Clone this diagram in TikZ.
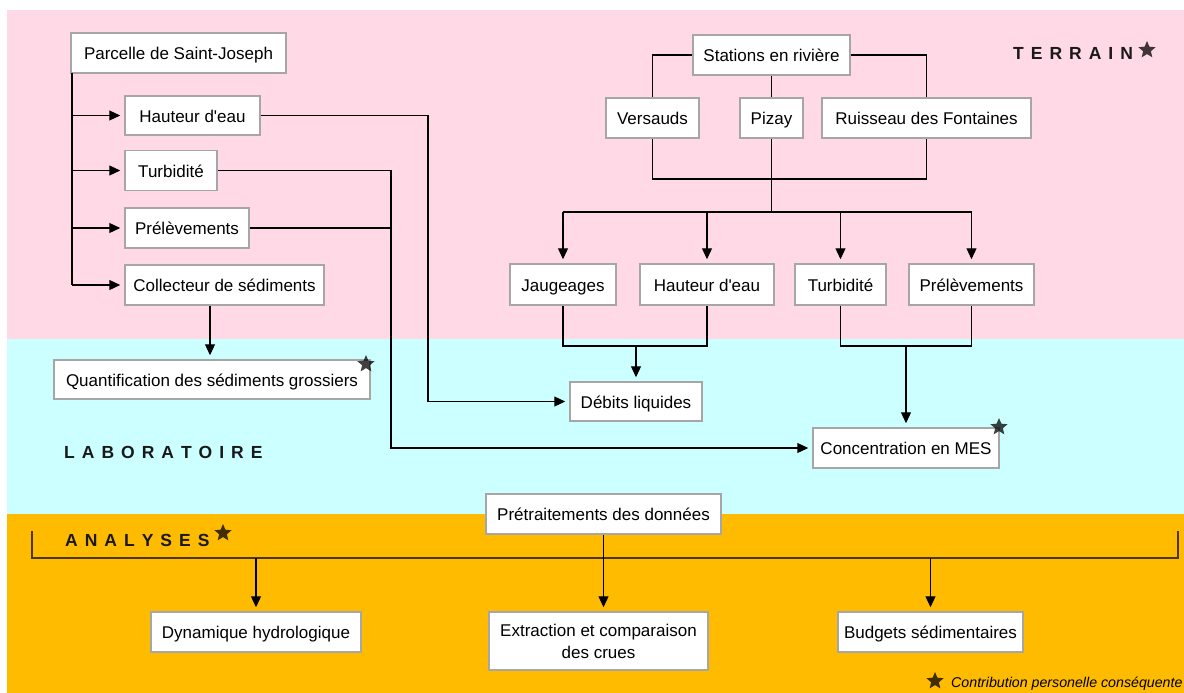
\documentclass[tikz,border=0pt]{standalone}
\usepackage{fontspec}
\setmainfont{Liberation Sans}
\usetikzlibrary{arrows.meta,shapes.geometric,calc}
\definecolor{pinkbg}{HTML}{FFD9E5}
\definecolor{cyanbg}{HTML}{CCFFFF}
\definecolor{orangebg}{HTML}{FFBB00}
\definecolor{boxline}{HTML}{A6A6A6}
\newcommand{\gap}{\kern7pt}
\tikzset{
  boxbase/.style={draw=boxline, line width=1.5pt, fill=white, minimum height=40pt,
    inner sep=2pt, font=\fontsize{17}{22}\selectfont, text=black},
  box/.style={boxbase, text height=13.5pt, text depth=0pt},
  conn/.style={line width=1.2pt, draw=black},
  arr/.style={conn, -{Triangle[length=11pt,width=10pt]}, shorten >=4pt},
  bracketline/.style={line width=1.3pt, draw=black, draw opacity=0.7},
  contribstar/.style={star, star points=5, star point ratio=2.2, minimum size=18pt,
    inner sep=0pt, fill=black, fill opacity=0.75, draw=none},
  zonetitle/.style={font=\fontsize{17.5}{20}\selectfont\bfseries, inner sep=0pt,
    anchor=base west, text=black!90},
}
\begin{document}
\begin{tikzpicture}[x=1pt,y=-1pt]
\useasboundingbox (0,0) rectangle (1184,693);
% zones
\fill[pinkbg] (7,10) rectangle (1184,339);
\fill[cyanbg] (7,339) rectangle (1184,514);
\fill[orangebg] (7,514) rectangle (1184,693);

% zone titles
\node[zonetitle] (terrain) at (1013,60) {T\gap E\gap R\gap R\gap A\gap I\gap N};
\node[zonetitle] (labo) at (64,458) {L\gap A\gap B\gap O\gap R\gap A\gap T\gap O\gap I\gap R\gap E};
\node[zonetitle] (analyses) at (65,546) {A\gap N\gap A\gap L\gap Y\gap S\gap E\gap S};

% left column (Parcelle)
\node[box, minimum width=215pt] (par) at (178.5,53) {Parcelle de Saint-Joseph};
\node[box, minimum width=135pt, minimum height=39pt] (hL) at (192.5,115.5) {Hauteur d\textquotesingle eau};
\node[box, minimum width=92pt] (tL) at (171,170.5) {Turbidité};
\node[box, minimum width=124pt] (pL) at (187,228) {Prélèvements};
\node[box, minimum width=199pt] (coll) at (224.5,285) {Collecteur de sédiments};
\node[box, minimum width=316pt, minimum height=39pt] (quant) at (212,379.5) {Quantification des sédiments grossiers};

% right column (stations)
\node[box, minimum width=157pt] (sta) at (771.5,55) {Stations en rivière};
\node[box, minimum width=93pt] (ver) at (652.5,118) {Versauds};
\node[box, minimum width=63pt] (piz) at (771.5,118) {Pizay};
\node[box, minimum width=209pt] (rui) at (926.5,118) {Ruisseau des Fontaines};
\node[box, minimum width=106pt, minimum height=41pt] (jau) at (563,284.5) {Jaugeages};
\node[box, minimum width=134pt, minimum height=41pt] (hR) at (707,284.5) {Hauteur d\textquotesingle eau};
\node[box, minimum width=91pt, minimum height=41pt] (tR) at (840.5,284.5) {Turbidité};
\node[box, minimum width=125pt, minimum height=41pt] (pR) at (971.5,284.5) {Prélèvements};
\node[box, minimum width=132pt, minimum height=39pt] (deb) at (636,401.5) {Débits liquides};
\node[box, minimum width=186pt] (conc) at (906,448) {Concentration en MES};

% analyses
\node[box, minimum width=235pt] (pre) at (603.5,514) {Prétraitements des données};
\node[box, minimum width=210pt] (dyn) at (256,632) {Dynamique hydrologique};
\node[boxbase, minimum width=219pt, minimum height=58pt, align=center] (ext) at (598.5,641) {Extraction et comparaison\\des crues};
\node[box, minimum width=185pt] (bud) at (930.5,632) {Budgets sédimentaires};

% connectors: Parcelle
\coordinate (tt) at (72,73);
\coordinate (hx) at (428,0);
\coordinate (tx) at (391,0);
\coordinate (qx) at (210,0);
\draw[conn] (tt) -- (tt |- coll.west);
\foreach \n in {hL,tL,pL,coll} \draw[arr] (tt |- \n.west) -- (\n.west);
\draw[arr] (hL.east) -- (hL.east -| hx) -- (hx |- deb.west) -- (deb.west);
\draw[arr] (tL.east) -- (tL.east -| tx) -- (tx |- conc.west) -- (conc.west);
\draw[conn] (pL.east) -- (pL.east -| tx);
\draw[arr] (coll.south -| qx) -- (qx |- quant.north);

% connectors: stations
\coordinate (jy1) at (0,179);
\coordinate (hbar) at (0,212);
\coordinate (jy2) at (0,346);
\draw[conn] (sta.west) -| (ver.north);
\draw[conn] (sta.east) -| (rui.north);
\draw[conn] (sta.south) -- (sta.south |- piz.north);
\draw[conn] (ver.south) -- (ver.south |- jy1) -| (rui.south);
\draw[conn] (piz.south) -- (piz.south |- hbar);
\draw[conn] (jau.north |- hbar) -- (pR.north |- hbar);
\foreach \n in {jau,hR,tR,pR} \draw[arr] (\n.north |- hbar) -- (\n.north);
\draw[conn] (jau.south) -- (jau.south |- jy2) -| (hR.south);
\draw[arr] (deb.north |- jy2) -- (deb.north);
\draw[conn] (tR.south) -- (tR.south |- jy2) -| (pR.south);
\draw[arr] (conc.north |- jy2) -- (conc.north);

% connectors: analyses
\coordinate (bl) at (32,531);
\coordinate (br) at (1178,531);
\coordinate (by) at (0,558);
\draw[bracketline] (bl) -- (bl |- by) -- (br |- by) -- (br);
\draw[arr] (dyn.north |- by) -- (dyn.north);
\draw[arr] (bud.north |- by) -- (bud.north);
\draw[arr] (pre.south) -- (pre.south |- ext.north);

% stars
\node[contribstar] (st1) at (1147,50) {};
\node[contribstar] (st2) at (223,533) {};
\node[contribstar] (st3) at (366,364) {};
\node[contribstar] (st4) at (999,427) {};
\node[contribstar] (st5) at (935,681) {};
\node[inner sep=0pt, anchor=base west, font=\fontsize{14.2}{16}\selectfont\itshape] (legend) at (951,687) {Contribution personelle conséquente};
\end{tikzpicture}
\end{document}
